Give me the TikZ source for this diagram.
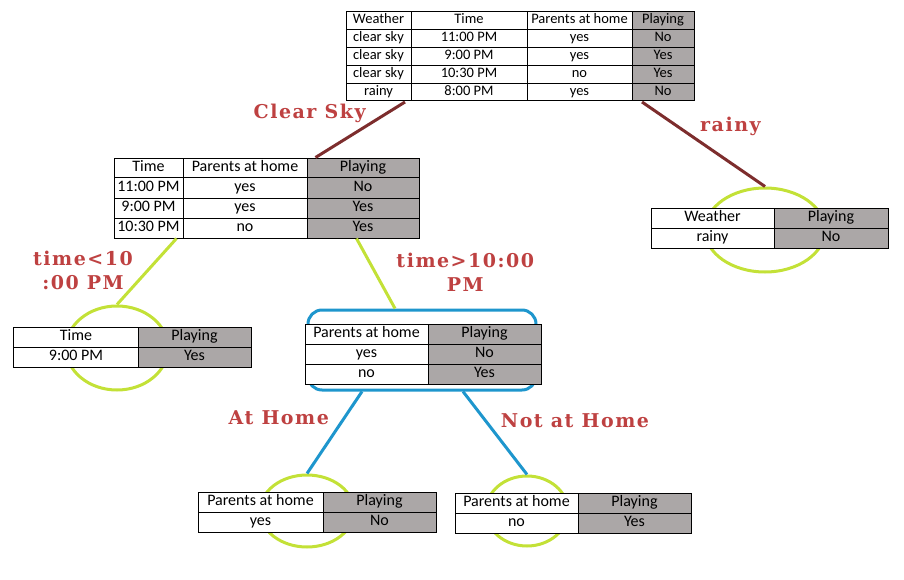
\documentclass[tikz,border=0pt]{standalone}
\usepackage{fontspec}
\setmainfont{Carlito}
\newfontfamily\condfont[LetterSpace=8]{DejaVu Serif}
\usetikzlibrary{matrix, positioning, shapes.geometric}
\definecolor{tablegray}{RGB}{171,167,167}
\definecolor{lblred}{RGB}{190,65,65}
\definecolor{brownline}{RGB}{125,45,45}
\definecolor{ringgreen}{RGB}{195,225,55}
\definecolor{blueline}{RGB}{30,150,205}
\tikzset{
    x=1pt, y=-1pt, % pixel units, y grows downwards
    datatable/.style={matrix of nodes, inner sep=0pt, anchor=north west, line width=1pt,
        column sep=-\pgflinewidth, row sep=-\pgflinewidth,
        nodes={draw, fill=white, inner sep=0pt, text height=10pt, text depth=3pt,
            minimum height=20, font=\fontsize{16}{16}\selectfont}}, % one table of the tree
    colw/.style 2 args={column #1/.append style={nodes={minimum width=#2}}}, % width of a column
    playcol/.style 2 args={column #1/.append style={nodes={minimum width=#2, fill=tablegray}}}, % the grey 'Playing' column
    ring/.style={ellipse, draw=ringgreen, line width=3pt, inner sep=0pt}, % green circle round a leaf
    branch/.style={line width=3pt, draw=#1}, % the line of a split
    cond/.style={font=\condfont\bfseries\fontsize{19}{24}\selectfont, text=lblred, align=center, inner sep=0pt}, % split condition
}
\begin{document}
\begin{tikzpicture}
\useasboundingbox (0,0) rectangle (904,580);
% rings behind the tables
\node[ring, minimum width=120, minimum height=84] (rainyring) at (765,230) {};
\node[ring, minimum width=102, minimum height=84] (earlyring) at (117,348) {};
\node[ring, minimum width=94, minimum height=72] (homering) at (307,511) {};
\node[ring, minimum width=82, minimum height=70] (awayring) at (527,511) {};
\node[draw=blueline, line width=3pt, rounded corners=14pt, minimum width=228, minimum height=80] (latering) at (422,350) {};
% tables
\matrix[datatable, colw={1}{65}, colw={2}{116}, colw={3}{105}, playcol={4}{62},
    nodes={minimum height=17.8, text height=9pt, font=\fontsize{14.5}{14.5}\selectfont}] (root) at (345,11) {
    Weather & Time & Parents at home & Playing \\
    clear sky & 11:00 PM & yes & No \\
    clear sky & 9:00 PM & yes & Yes \\
    clear sky & 10:30 PM & no & Yes \\
    rainy & 8:00 PM & yes & No \\
};
\matrix[datatable, colw={1}{69}, colw={2}{124}, playcol={3}{112}] (clear) at (113,157) {
    Time & Parents at home & Playing \\
    11:00 PM & yes & No \\
    9:00 PM & yes & Yes \\
    10:30 PM & no & Yes \\
};
\matrix[datatable, colw={1}{123}, playcol={2}{114}] (rainy) at (650,207) {
    Weather & Playing \\
    rainy & No \\
};
\matrix[datatable, colw={1}{124}, playcol={2}{113}] (early) at (13,326) {
    Time & Playing \\
    9:00 PM & Yes \\
};
\matrix[datatable, colw={1}{123}, playcol={2}{113}] (late) at (304,323) {
    Parents at home & Playing \\
    yes & No \\
    no & Yes \\
};
\matrix[datatable, colw={1}{125}, playcol={2}{113}] (home) at (197,491) {
    Parents at home & Playing \\
    yes & No \\
};
\matrix[datatable, colw={1}{123}, playcol={2}{113}] (away) at (454,492) {
    Parents at home & Playing \\
    no & Yes \\
};
% splits
\draw[branch=brownline]
    ([xshift=60]root.south west) edge node[cond, pos=0.2, left, xshift=-20] {Clear Sky} ([xshift=9]clear-1-3.north west)
    ([xshift=-53]root.south east) edge node[cond, pos=0.29, right, xshift=21] {rainy} (rainyring.north);
\draw[branch=ringgreen]
    ([xshift=-7]clear-4-1.south east) edge node[cond, pos=0.49, left, xshift=-13] {time<10\\:00 PM} (earlyring.north)
    ([xshift=50]clear-4-3.south west) edge node[cond, pos=0.48, right, xshift=20] {time>10:00\\PM} ([xshift=-27]latering.north);
\draw[branch=blueline]
    ([xshift=-60]latering.south) edge node[cond, pos=0.32, left, xshift=-14] {At Home} (homering.north)
    ([xshift=41]latering.south) edge node[cond, pos=0.35, right, xshift=14] {Not at Home} (awayring.north);
\end{tikzpicture}
\end{document}
